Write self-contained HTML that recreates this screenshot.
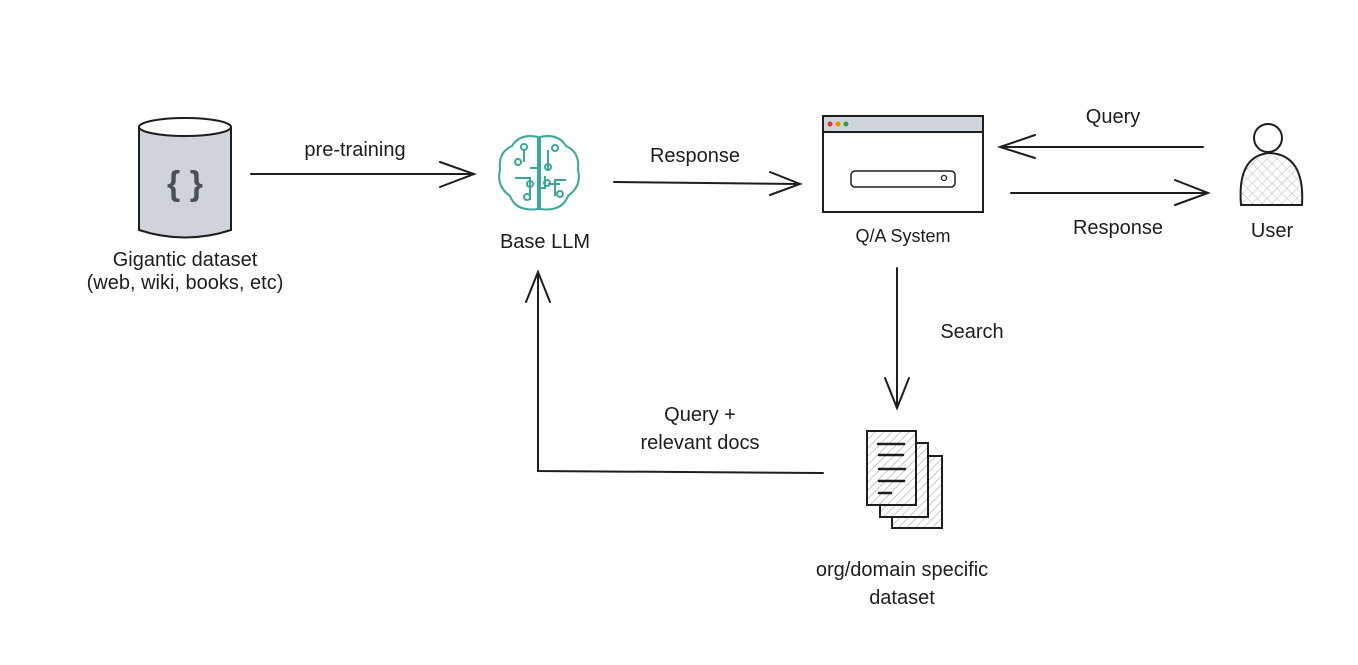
<!DOCTYPE html>
<html><head><meta charset="utf-8"><style>
html,body{margin:0;padding:0;background:#fff;}
svg text{font-family:"Liberation Sans",sans-serif;fill:#1e1e1e;font-size:20px;text-anchor:middle;}
</style></head><body>
<svg width="1358" height="660" viewBox="0 0 1358 660" xmlns="http://www.w3.org/2000/svg">
<defs>
<pattern id="hatch" width="6" height="6" patternUnits="userSpaceOnUse" patternTransform="rotate(45)">
<line x1="0" y1="0" x2="0" y2="6" stroke="#aaa" stroke-width="1.2"/></pattern>
<pattern id="cross" width="7" height="7" patternUnits="userSpaceOnUse" patternTransform="rotate(45)">
<path d="M0 0V7M0 0H7" stroke="#bbb" stroke-width="1"/></pattern>
</defs>
<g fill="none" stroke="#1e1e1e" stroke-width="2" stroke-linecap="round">
<path d="M139 128 L139 230 Q185 245 231 230 L231 128" fill="#ced4da"/>
<ellipse cx="185" cy="127" rx="46" ry="9" fill="#fff"/>
<path d="M251 174 L474 174 M440 162 L474 174 L440 187"/>
<path d="M614 182 L800 184 M770 172 L800 184 L770 195"/>
<rect x="823" y="116" width="160" height="96" fill="#fff"/>
<rect x="823" y="116" width="160" height="16" fill="#ced4da"/>
<rect x="851" y="171" width="104" height="16" rx="4" stroke-width="1.5"/>
<circle cx="944" cy="178" r="2.5" stroke-width="1.2"/>
<path d="M1203 147 L1000 147 M1035 135 L1000 147 L1035 158"/>
<path d="M1011 193 L1208 193 M1175 180 L1208 193 L1175 205"/>
<circle cx="1268" cy="138" r="14" fill="#fff"/>
<path d="M1241 205 Q1237 155 1270 153 Q1305 155 1302 205 Z" fill="url(#cross)"/>
<path d="M897 268 L897 408 M885 378 L897 408 L909 378"/>
<path d="M823 473 L538 471 L538 272 M526 302 L538 272 L550 302"/>
<rect x="892" y="456" width="50" height="72" fill="url(#hatch)"/>
<rect x="880" y="443" width="48" height="74" fill="#fff"/>
<rect x="880" y="443" width="48" height="74" fill="url(#hatch)"/>
<rect x="867" y="431" width="49" height="74" fill="#fff"/>
<rect x="867" y="431" width="49" height="74" fill="url(#hatch)"/>
<path d="M878 444H904M879 455H903M879 469H905M879 481H904M879 493H891" stroke-width="2.5"/>
</g>
<circle cx="830" cy="124" r="2.5" fill="#e03131"/>
<circle cx="838" cy="124" r="2.5" fill="#f08c00"/>
<circle cx="846" cy="124" r="2.5" fill="#2f9e44"/>
<g fill="none" stroke="#3aa89a" stroke-width="2">
<path d="M538 137 Q520 133 512 146 Q498 152 500 170 Q496 186 510 196 Q516 212 538 209 Z"/>
<path d="M540 137 Q558 133 566 146 Q580 152 578 170 Q582 186 568 196 Q562 212 540 209 Z"/>
<path d="M539 137 V209 M524 150 V162 M530 168 H539 M515 178 H530 V200 M548 150 V170 M548 184 H560 M555 196 V180 H566 M539 188 H545 V176"/>
<circle cx="524" cy="147" r="3"/><circle cx="518" cy="162" r="3"/><circle cx="530" cy="184" r="3"/>
<circle cx="527" cy="197" r="3"/><circle cx="555" cy="148" r="3"/><circle cx="548" cy="167" r="3"/>
<circle cx="547" cy="183" r="3"/><circle cx="560" cy="194" r="3"/>
</g>
<text x="185" y="195" style="fill:#495057;font-size:34px;font-weight:bold">{ }</text>
<text x="185" y="266">Gigantic dataset</text>
<text x="185" y="289">(web, wiki, books, etc)</text>
<text x="355" y="156">pre-training</text>
<text x="545" y="248">Base LLM</text>
<text x="695" y="162">Response</text>
<text x="903" y="242" style="font-size:18px">Q/A System</text>
<text x="1113" y="123">Query</text>
<text x="1118" y="234">Response</text>
<text x="1272" y="237">User</text>
<text x="972" y="338">Search</text>
<text x="700" y="421">Query +</text>
<text x="700" y="449">relevant docs</text>
<text x="902" y="576">org/domain specific</text>
<text x="902" y="604">dataset</text>
</svg>
</body></html>
